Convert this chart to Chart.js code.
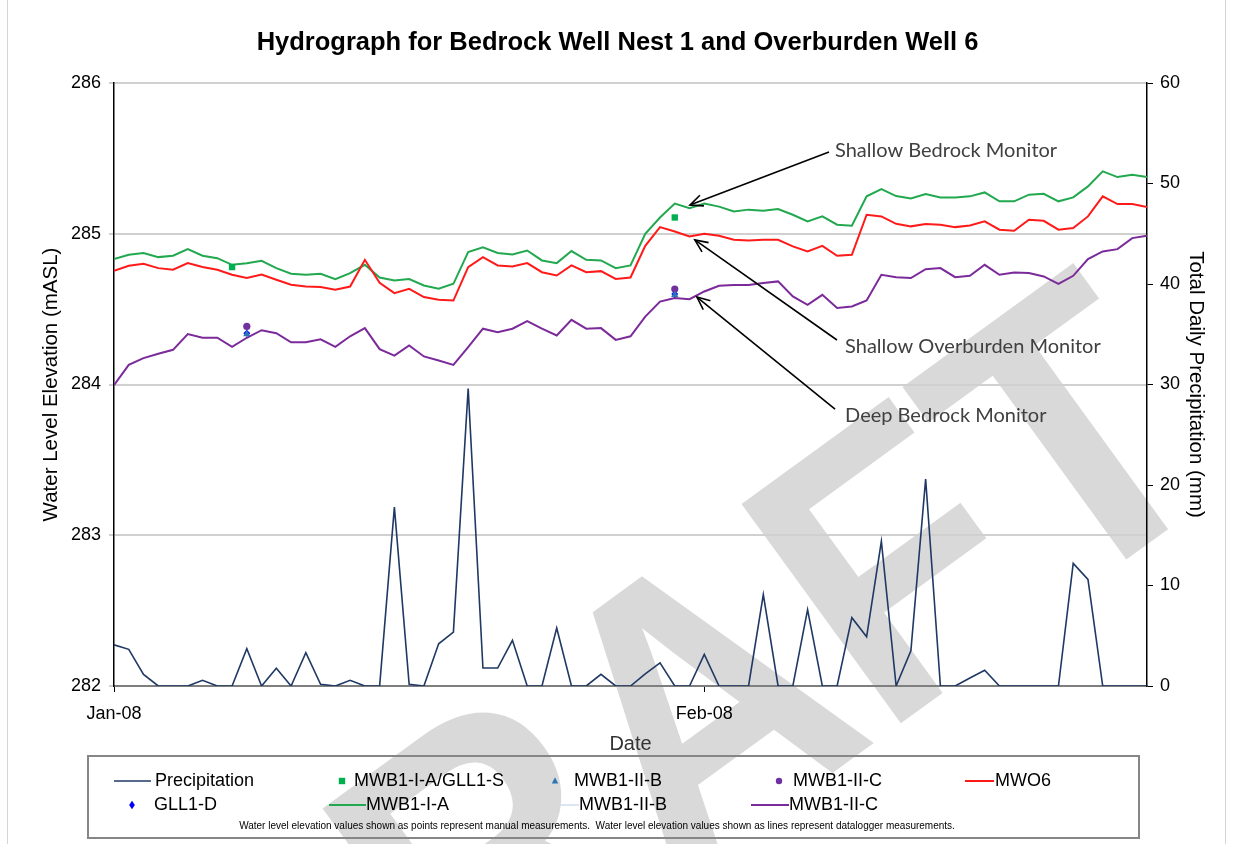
<!DOCTYPE html>
<html><head><meta charset="utf-8">
<script src="https://cdn.jsdelivr.net/npm/chart.js@4.4.0/dist/chart.umd.min.js"></script>
<style>html,body{margin:0;padding:0;background:#fff;overflow:hidden}canvas{display:block}</style>
</head><body>
<canvas id="c" width="1235" height="844"></canvas>
<script>
// ---- data ----
const days = [0,1,2,3,4,5,6,7,8,9,10,11,12,13,14,15,16,17,18,19,20,21,22,23,24,25,26,27,28,29,30,31,32,33,34,35,36,37,38,39,40,41,42,43,44,45,46,47,48,49,50,51,52,53,54,55,56,57,58,59,60,61,62,63,64,65,66,67,68,69,70];
const xTickDays = [0, 40];
const xTickLabels = ['Jan-08', 'Feb-08'];

const precipitation = [4.1,3.65,1.16,0,0,0,0.56,0,0,3.71, 0,1.76,0,3.32,0.17,0,0.56,0,0,17.8, 0.17,0,4.2,5.37,29.6,1.79,1.79,4.54,0,0, 5.77,0,0,1.16,0,0,1.2,2.3,0,0, 3.15,0,0,0,9.1,0,0,7.6,0,0, 6.8,4.9,14.4,0,3.5,20.6,0,0,0.8,1.56, 0,0,0,0,0,12.2,10.6,0,0,0,0];

const mwb1IA = [284.832,284.861,284.872,284.845,284.854,284.898,284.854,284.838,284.794,284.805, 284.82,284.772,284.735,284.728,284.735,284.699,284.739,284.794,284.71,284.69, 284.70,284.657,284.635,284.668,284.878,284.91,284.872,284.863,284.889,284.823, 284.805,284.885,284.827,284.823,284.772,284.79,285.0,285.108,285.2,285.17, 285.2,285.18,285.148,285.16,285.153,285.164,285.126,285.082,285.115,285.06, 285.053,285.248,285.296,285.25,285.234,285.263,285.241,285.241,285.248,285.274, 285.215,285.215,285.259,285.265,285.215,285.241,285.314,285.414,285.376,285.392,285.376];

const mwo6 = [284.754,284.788,284.801,284.772,284.761,284.805,284.779,284.761,284.728,284.706, 284.73,284.695,284.662,284.65,284.646,284.628,284.65,284.827,284.675,284.606, 284.635,284.58,284.562,284.557,284.779,284.845,284.79,284.783,284.805,284.745, 284.723,284.79,284.745,284.752,284.70,284.71,284.92,285.044,285.015,284.982, 285.0,284.987,284.96,284.956,284.96,284.96,284.916,284.883,284.92,284.854, 284.86,285.126,285.115,285.066,285.049,285.064,285.06,285.044,285.055,285.082, 285.027,285.02,285.093,285.086,285.027,285.038,285.115,285.248,285.197,285.197,285.177];

const mwb1IIC = [283.996,284.13,284.175,284.204,284.23,284.334,284.31,284.31,284.25,284.31, 284.36,284.34,284.28,284.28,284.30,284.25,284.32,284.374,284.235,284.192, 284.259,284.186,284.159,284.13,284.248,284.37,284.347,284.37,284.42,284.37, 284.325,284.429,284.37,284.374,284.296,284.32,284.45,284.55,284.573,284.566, 284.617,284.655,284.66,284.66,284.673,284.684,284.584,284.529,284.595,284.507, 284.518,284.558,284.728,284.711,284.706,284.765,284.772,284.712,284.721,284.794, 284.728,284.743,284.739,284.717,284.668,284.721,284.832,284.883,284.898,284.971,284.987];

const mwb1IIB = []; // datalogger line listed in legend, no visible values

const manualDaysIA = [8, 38];   const manualIA = [284.779, 285.108];
const manualDaysIIB = [9, 38];  const manualIIB = [284.334, 284.595];
const manualDaysIIC = [9, 38];  const manualIIC = [284.385, 284.633];
const manualDaysGLL1D = [9, 38]; const manualGLL1D = [284.34, 284.60];

// ---- helpers ----
const pts = (xs, ys) => ys.map((y, i) => ({x: xs[i], y: y}));

const FONT = '"Liberation Sans", Arial, sans-serif';

function drawMarker(ctx, style, x, y, r) {
  ctx.beginPath();
  if (style === 'rect') { ctx.rect(x - r, y - r, 2 * r, 2 * r); }
  else if (style === 'triangle') { ctx.moveTo(x, y - r * 1.15); ctx.lineTo(x + r, y + r * 0.75); ctx.lineTo(x - r, y + r * 0.75); ctx.closePath(); }
  else if (style === 'rectRot') { ctx.moveTo(x, y - r * 1.3); ctx.lineTo(x + r * 0.9, y); ctx.lineTo(x, y + r * 1.3); ctx.lineTo(x - r * 0.9, y); ctx.closePath(); }
  else { ctx.arc(x, y, r, 0, Math.PI * 2); }
  ctx.fill();
}

const gridLegend = {
  id: 'gridLegend',
  afterDraw(chart, args, opts) {
    const ctx = chart.ctx;
    ctx.save();
    ctx.strokeStyle = '#868686'; ctx.lineWidth = 2;
    ctx.strokeRect(opts.box.x, opts.box.y, opts.box.w, opts.box.h);
    ctx.font = '18px ' + FONT;
    ctx.textBaseline = 'middle'; ctx.textAlign = 'left';
    chart.data.datasets.forEach((ds, k) => {
      const s = opts.slots[k];
      if (!s) return;
      if (ds.showLine === false) {
        ctx.fillStyle = ds.backgroundColor;
        drawMarker(ctx, ds.pointStyle, s.m, s.y, 3.2);
      } else {
        ctx.strokeStyle = ds.borderColor; ctx.lineWidth = ds.borderWidth;
        ctx.beginPath(); ctx.moveTo(s.l0, s.y); ctx.lineTo(s.l1, s.y); ctx.stroke();
      }
      ctx.fillStyle = '#000';
      ctx.fillText(ds.label, s.t, s.y);
    });
    ctx.font = '10px ' + FONT; ctx.textAlign = 'center';
    ctx.fillText(opts.note, opts.noteX, opts.noteY);
    ctx.restore();
  }
};

const arrowNotes = {
  id: 'arrowNotes',
  afterDatasetsDraw(chart, args, opts) {
    const ctx = chart.ctx, xs = chart.scales.x, ys = chart.scales.y;
    ctx.save();
    opts.items.forEach(a => {
      const fx = xs.getPixelForValue(a.from[0]), fy = ys.getPixelForValue(a.from[1]);
      const tx = xs.getPixelForValue(a.to[0]), ty = ys.getPixelForValue(a.to[1]);
      ctx.strokeStyle = '#000'; ctx.lineWidth = 1.6;
      ctx.beginPath(); ctx.moveTo(fx, fy); ctx.lineTo(tx, ty); ctx.stroke();
      const ang = Math.atan2(fy - ty, fx - tx), L = 14, w = 0.42;
      ctx.beginPath();
      ctx.moveTo(tx + L * Math.cos(ang + w), ty + L * Math.sin(ang + w));
      ctx.lineTo(tx, ty);
      ctx.lineTo(tx + L * Math.cos(ang - w), ty + L * Math.sin(ang - w));
      ctx.stroke();
      ctx.font = '20px Lato, "Open Sans", sans-serif';
      ctx.fillStyle = '#404040'; ctx.textBaseline = 'middle'; ctx.textAlign = 'left';
      ctx.fillText(a.text, xs.getPixelForValue(a.at[0]), ys.getPixelForValue(a.at[1]));
    });
    ctx.restore();
  }
};

const watermark = {
  id: 'watermark',
  afterDraw(chart) {
    const ctx = chart.ctx;
    ctx.save();
    ctx.globalCompositeOperation = 'darken';
    ctx.translate(253, 1194);
    ctx.rotate(-36 * Math.PI / 180);
    ctx.scale(0.91, 1);
    ctx.font = 'bold 394px ' + FONT;
    ctx.fillStyle = '#d9d9d9';
    ctx.fillText('DRAFT', 0, 0);
    ctx.restore();
    ctx.save();
    ctx.strokeStyle = '#d4d4d4'; ctx.lineWidth = 1;
    ctx.strokeRect(7.5, -2, 1218, 850);
    ctx.restore();
  }
};

new Chart(document.getElementById('c'), {
  type: 'line',
  data: {
    datasets: [
      {label: 'Precipitation', data: pts(days, precipitation), yAxisID: 'y2', borderColor: '#1f3864', backgroundColor: '#1f3864', borderWidth: 1.6, pointRadius: 0, order: 5},
      {label: 'MWB1-I-A/GLL1-S', data: pts(manualDaysIA, manualIA), showLine: false, pointStyle: 'rect', pointRadius: 4.5, backgroundColor: '#00b050', borderColor: '#00b050', borderWidth: 0, order: 0},
      {label: 'MWB1-II-B', data: pts(manualDaysIIB, manualIIB), showLine: false, pointStyle: 'triangle', pointRadius: 4.2, backgroundColor: '#2e75b6', borderColor: '#2e75b6', borderWidth: 0, order: 0},
      {label: 'MWB1-II-C', data: pts(manualDaysIIC, manualIIC), showLine: false, pointStyle: 'circle', pointRadius: 3.6, backgroundColor: '#7030a0', borderColor: '#7030a0', borderWidth: 0, order: 0},
      {label: 'MWO6', data: pts(days, mwo6), borderColor: '#ff1a1a', backgroundColor: '#ff1a1a', borderWidth: 2, pointRadius: 0, order: 2},
      {label: 'GLL1-D', data: pts(manualDaysGLL1D, manualGLL1D), showLine: false, pointStyle: 'rectRot', pointRadius: 3.5, backgroundColor: '#0000ff', borderColor: '#0000ff', borderWidth: 0, order: 1},
      {label: 'MWB1-I-A', data: pts(days, mwb1IA), borderColor: '#22a84e', backgroundColor: '#22a84e', borderWidth: 2, pointRadius: 0, order: 2},
      {label: 'MWB1-II-B', data: pts(days, mwb1IIB), borderColor: '#dce6f2', backgroundColor: '#dce6f2', borderWidth: 2, pointRadius: 0, order: 3},
      {label: 'MWB1-II-C', data: pts(days, mwb1IIC), borderColor: '#7b2a9a', backgroundColor: '#7b2a9a', borderWidth: 2, pointRadius: 0, order: 2}
    ]
  },
  options: {
    responsive: false, animation: false, events: [],
    layout: {padding: {left: 0, right: 0, top: 0, bottom: 88}},
    elements: {line: {tension: 0}},
    plugins: {
      legend: {display: false}, tooltip: {enabled: false},
      title: {display: true, text: 'Hydrograph for Bedrock Well Nest 1 and Overburden Well 6', color: '#000',
              font: {family: FONT, size: 25.5, weight: 'bold'}, padding: {top: 28, bottom: 24.4}},
      gridLegend: {
        box: {x: 88, y: 756, w: 1051, h: 82},
        note: 'Water level elevation values shown as points represent manual measurements.  Water level elevation values shown as lines represent datalogger measurements.',
        noteX: 597, noteY: 826,
        slots: [
          {l0: 114, l1: 151, t: 155, y: 781},
          {m: 342, t: 354, y: 781},
          {m: 555, t: 574, y: 781},
          {m: 779, t: 793, y: 781},
          {l0: 965, l1: 994, t: 995, y: 781},
          {m: 132, t: 154, y: 805},
          {l0: 329, l1: 366, t: 366, y: 805},
          {l0: 538, l1: 579, t: 579, y: 805},
          {l0: 751, l1: 789, t: 789, y: 805}
        ]
      },
      arrowNotes: {
        items: [
          {text: 'Shallow Bedrock Monitor', at: [48.86, 285.549], from: [48.45, 285.542], to: [39.03, 285.19]},
          {text: 'Shallow Overburden Monitor', at: [49.54, 284.249], from: [48.99, 284.295], to: [39.36, 284.959]},
          {text: 'Deep Bedrock Monitor', at: [49.54, 283.791], from: [48.86, 283.837], to: [39.5, 284.58]}
        ]
      }
    },
    scales: {
      x: {
        type: 'linear', min: 0, max: 70, position: 'bottom',
        afterBuildTicks: s => { s.ticks = xTickDays.map(v => ({value: v})); },
        afterFit: s => { s.height = 70; },
        ticks: {autoSkip: false, maxRotation: 0, padding: 11, color: '#000', font: {family: FONT, size: 18},
                callback: v => xTickLabels[xTickDays.indexOf(v)] ?? ''},
        grid: {drawOnChartArea: false, tickLength: 6, color: '#000', lineWidth: 1},
        border: {color: '#7f7f7f', width: 2},
        title: {display: true, text: 'Date', color: '#333', font: {family: FONT, size: 20}, padding: {top: 2, bottom: 0}}
      },
      y: {
        position: 'left', min: 282, max: 286,
        afterFit: s => { s.width = 114; },
        ticks: {stepSize: 1, padding: 8, color: '#000', font: {family: FONT, size: 18}},
        grid: {color: '#d0d0d0', lineWidth: 2, tickLength: 5},
        border: {color: '#000', width: 1.5},
        title: {display: true, text: 'Water Level Elevation (mASL)', color: '#000', font: {family: FONT, size: 20.5}, padding: {top: 39, bottom: 0}}
      },
      y2: {
        position: 'right', min: 0, max: 60,
        afterFit: s => { s.width = 88; },
        ticks: {stepSize: 10, padding: 7, color: '#000', font: {family: FONT, size: 18}},
        grid: {drawOnChartArea: false, tickLength: 6, color: '#000', lineWidth: 1},
        border: {color: '#000', width: 1.5},
        title: {display: true, text: 'Total Daily Precipitation (mm)', color: '#000', font: {family: FONT, size: 20.5}, padding: {top: 27, bottom: 0}}
      }
    }
  },
  plugins: [arrowNotes, gridLegend, watermark]
});
</script>
</body></html>
